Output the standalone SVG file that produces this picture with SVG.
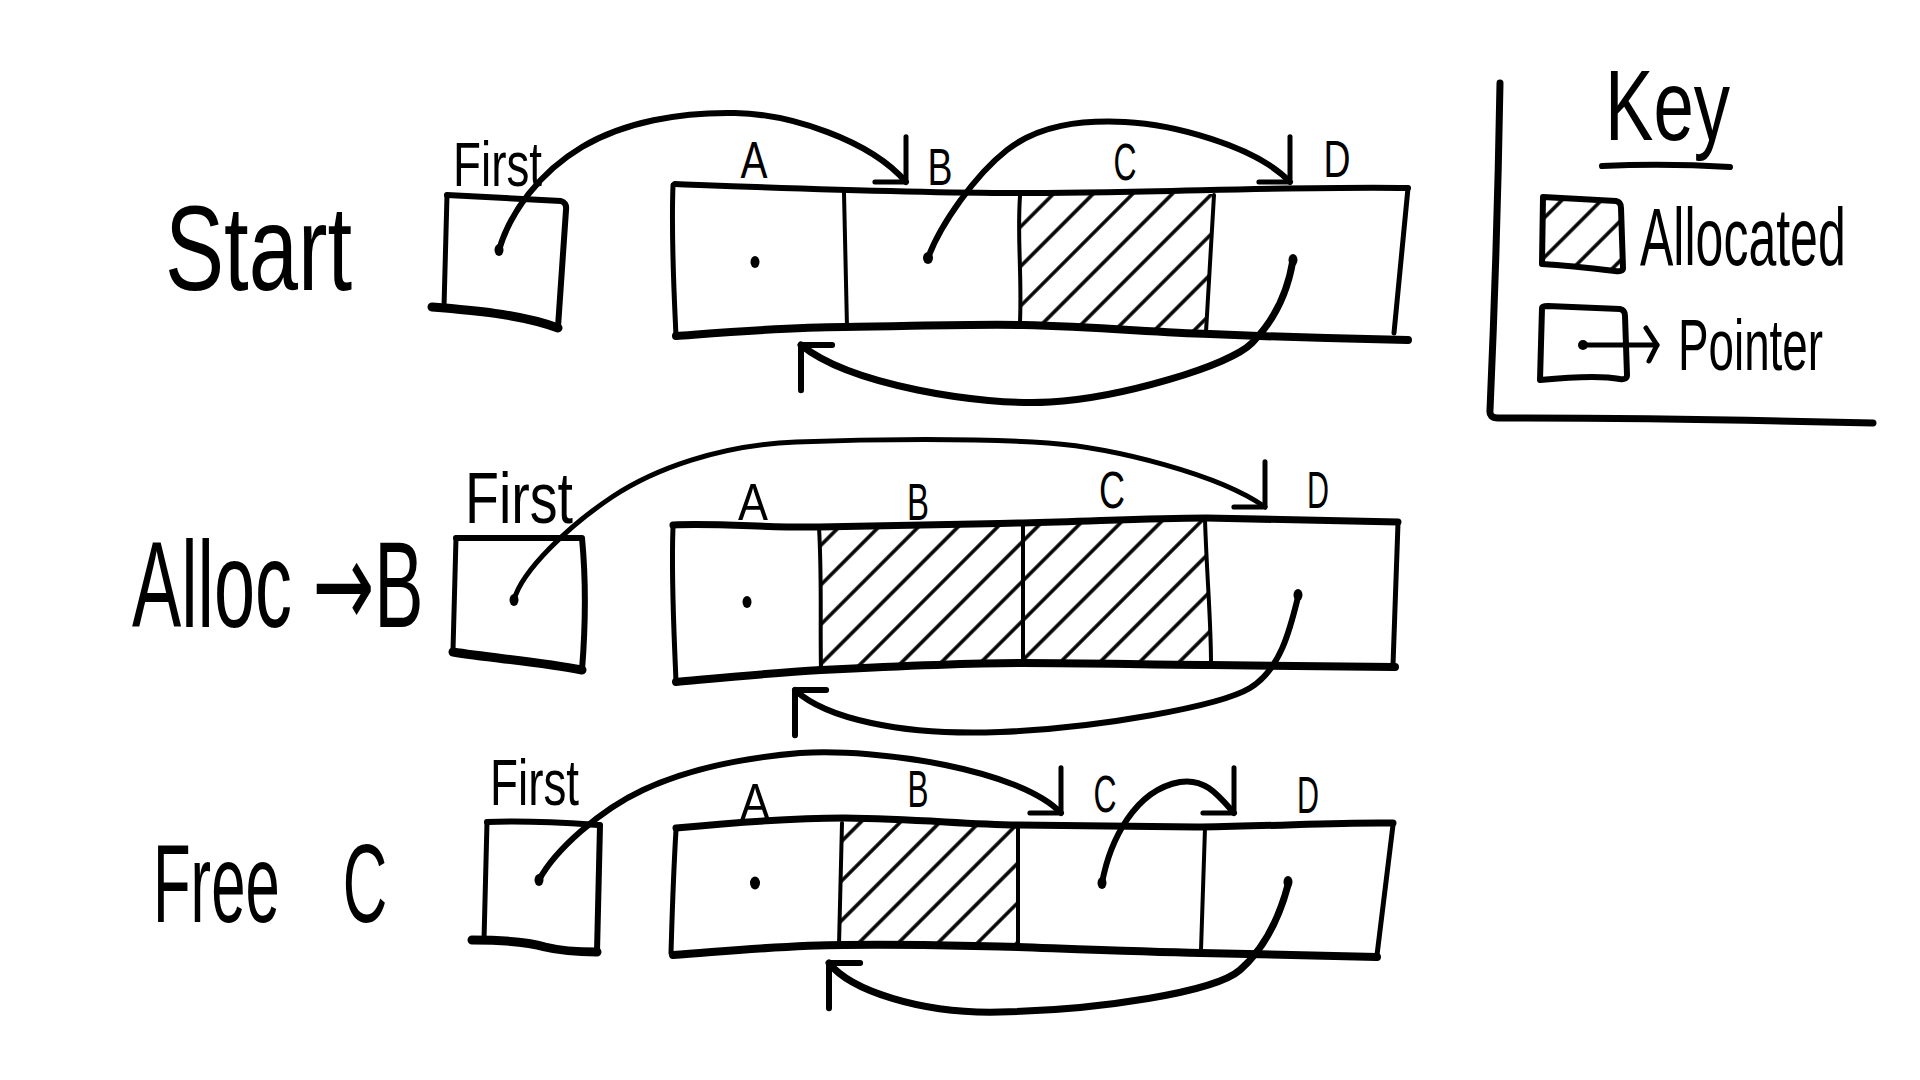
<svg xmlns="http://www.w3.org/2000/svg" width="1920" height="1080" viewBox="0 0 1920 1080">
<style>
.ln{fill:none;stroke:#000;stroke-linecap:round;stroke-linejoin:round}
.w4{stroke-width:4}.w5{stroke-width:5}.w6{stroke-width:6}.w7{stroke-width:7}.w8{stroke-width:8}
.txt{font-family:"Liberation Sans","DejaVu Sans",sans-serif;fill:#000}
.lbl{font-size:52px;text-anchor:middle}
.dot{fill:#000}
.hatch{fill:url(#hatch);stroke:none}
</style>
<defs>
<pattern id="hatch" patternUnits="userSpaceOnUse" width="28" height="28" patternTransform="rotate(45)">
<line x1="14" y1="-2" x2="14" y2="30" stroke="#000" stroke-width="3.5"/>
</pattern>
<marker id="headDown" markerUnits="userSpaceOnUse" markerWidth="80" markerHeight="80" viewBox="-40 -40 80 80" refX="0" refY="0" orient="45" overflow="visible">
<path d="M-32,-32 L0,0 L-22,22" fill="none" stroke="#000" stroke-width="5" stroke-linecap="round" stroke-linejoin="round"/>
</marker>
<marker id="headUp" markerUnits="userSpaceOnUse" markerWidth="80" markerHeight="80" viewBox="-40 -40 80 80" refX="0" refY="0" orient="225" overflow="visible">
<path d="M-32,-32 L0,0 L-22,22" fill="none" stroke="#000" stroke-width="6" stroke-linecap="round" stroke-linejoin="round"/>
</marker>
<marker id="headSmall" markerUnits="userSpaceOnUse" markerWidth="40" markerHeight="40" viewBox="-20 -20 40 40" refX="0" refY="0" orient="auto" overflow="visible">
<path d="M-11,-17 L0,0 L-8,16" fill="none" stroke="#000" stroke-width="5" stroke-linecap="round" stroke-linejoin="round"/>
</marker>
</defs>
<rect width="1920" height="1080" fill="#fff"/>

<!-- Row labels -->
<g id="label-start"><text class="txt" x="165" y="290" font-size="120" textLength="187" lengthAdjust="spacingAndGlyphs">Start</text></g>
<g id="label-alloc"><text class="txt" transform="translate(132,627) scale(0.605,1)" x="0" y="0" font-size="122">Alloc <tspan font-family="DejaVu Sans, sans-serif">→</tspan>B</text></g>
<g id="label-free"><text class="txt" transform="translate(153,922) scale(0.55,1)" x="0" y="0" font-size="112">Free <tspan x="345">C</tspan></text></g>

<!-- First pointer boxes -->
<g id="first-1">
<text class="txt" x="453" y="186" font-size="63" textLength="89" lengthAdjust="spacingAndGlyphs">First</text>
<path class="ln w6" d="M447,195 L561,201 Q567,203 566,210 L558,327"/>
<path class="ln w5" d="M447,195 L444,307"/>
<path class="ln" stroke-width="9" d="M432,307 C470,310 520,314 558,328"/>
<ellipse class="dot" cx="499" cy="250" rx="4.5" ry="6"/>
</g>
<g id="first-2">
<text class="txt" x="465" y="523" font-size="72" textLength="108" lengthAdjust="spacingAndGlyphs">First</text>
<path class="ln w6" d="M456,538 L582,538 C586,580 586,620 582,670"/>
<path class="ln w5" d="M456,538 L453,650"/>
<path class="ln" stroke-width="9" d="M453,652 C490,658 540,662 582,670"/>
<ellipse class="dot" cx="514" cy="600" rx="4.5" ry="6"/>
</g>
<g id="first-3">
<text class="txt" x="490" y="805" font-size="65" textLength="89" lengthAdjust="spacingAndGlyphs">First</text>
<path class="ln w6" d="M487,822 C530,820 570,823 600,825 L597,952"/>
<path class="ln w5" d="M487,822 L484,940"/>
<path class="ln" stroke-width="9" d="M472,940 C500,940 525,941 545,947 C565,952 585,952 597,952"/>
<ellipse class="dot" cx="539" cy="880" rx="4.5" ry="6"/>
</g>

<!-- Memory row 1 -->
<g id="memory-1">
<path class="hatch" d="M1020,194 L1214,194 L1206,333 L1020,325 Z"/>
<path class="ln w6" d="M675,184 C780,188 900,193 1023,193 C1150,193 1300,186 1408,188"/>
<path class="ln w5" d="M1408,188 L1394,333"/>
<path class="ln w8" d="M676,336 C730,332 790,327 844,327 C920,326 970,324 1023,325 C1100,327 1150,332 1210,334 C1280,337 1350,339 1408,340"/>
<path class="ln w5" d="M673,185 C671,240 674,290 676,336"/>
<path class="ln w4" d="M844,193 L847,327"/>
<path class="ln w4" d="M1020,196 C1017,240 1022,270 1020,323"/>
<path class="ln w4" d="M1214,195 L1206,332"/>
<text class="txt lbl" x="754" y="178" font-size="44" textLength="27" lengthAdjust="spacingAndGlyphs">A</text>
<text class="txt lbl" x="940" y="185" textLength="25" lengthAdjust="spacingAndGlyphs">B</text>
<text class="txt lbl" x="1125" y="180" font-size="44" textLength="23" lengthAdjust="spacingAndGlyphs">C</text>
<text class="txt lbl" x="1337" y="177" textLength="27" lengthAdjust="spacingAndGlyphs">D</text>
<ellipse class="dot" cx="755" cy="262" rx="4.5" ry="6"/>
<ellipse class="dot" cx="928" cy="258" rx="5" ry="6"/>
<ellipse class="dot" cx="1293" cy="260" rx="4.5" ry="6"/>
</g>

<!-- Memory row 2 -->
<g id="memory-2">
<path class="hatch" d="M819,527 L1023,524 L1023,664 L821,670 Z"/>
<path class="hatch" d="M1023,524 L1205,519 L1211,665 L1023,664 Z"/>
<path class="ln w7" d="M673,525 C720,523 770,528 819,527 C900,526 960,524 1023,523 C1100,521 1150,518 1206,518 C1300,520 1350,521 1398,522"/>
<path class="ln w5" d="M1398,523 L1393,665"/>
<path class="ln w8" d="M676,682 C720,678 770,673 821,670 C900,666 960,663 1023,663 C1100,663 1150,665 1211,665 C1300,666 1350,667 1395,667"/>
<path class="ln w5" d="M673,527 C671,580 674,630 676,682"/>
<path class="ln w4" d="M819,527 C822,580 820,620 821,670"/>
<path class="ln w4" d="M1023,525 L1023,663"/>
<path class="ln w4" d="M1205,520 C1207,580 1211,620 1211,663"/>
<text class="txt lbl" x="753" y="520" textLength="30" lengthAdjust="spacingAndGlyphs">A</text>
<text class="txt lbl" x="918" y="520" textLength="22" lengthAdjust="spacingAndGlyphs">B</text>
<text class="txt lbl" x="1112" y="508" textLength="26" lengthAdjust="spacingAndGlyphs">C</text>
<text class="txt lbl" x="1318" y="508" textLength="22" lengthAdjust="spacingAndGlyphs">D</text>
<ellipse class="dot" cx="747" cy="602" rx="4.5" ry="6"/>
<ellipse class="dot" cx="1298" cy="595" rx="4.5" ry="6"/>
</g>

<!-- Memory row 3 -->
<g id="memory-3">
<path class="hatch" d="M842,820 L1018,825 L1018,946 L839,945 Z"/>
<path class="ln w7" d="M676,828 C740,822 790,818 844,818 C920,819 960,824 1018,825 C1100,826 1150,827 1201,827 C1280,826 1340,822 1393,823"/>
<path class="ln w5" d="M1393,825 L1377,955"/>
<path class="ln w8" d="M673,955 C740,950 790,945 844,945 C920,944 960,946 1018,947 C1100,950 1150,952 1201,953 C1280,955 1340,956 1377,957"/>
<path class="ln w5" d="M676,830 C673,880 672,920 671,953"/>
<path class="ln w4" d="M842,823 L839,945"/>
<path class="ln w4" d="M1018,827 L1018,945"/>
<path class="ln w4" d="M1205,828 L1201,950"/>
<text class="txt lbl" x="755" y="820" textLength="30" lengthAdjust="spacingAndGlyphs">A</text>
<text class="txt lbl" x="918" y="807" font-size="44" textLength="21" lengthAdjust="spacingAndGlyphs">B</text>
<text class="txt lbl" x="1105" y="812" textLength="23" lengthAdjust="spacingAndGlyphs">C</text>
<text class="txt lbl" x="1308" y="813" textLength="22" lengthAdjust="spacingAndGlyphs">D</text>
<ellipse class="dot" cx="755" cy="883" rx="5" ry="6.5"/>
<ellipse class="dot" cx="1102" cy="883" rx="4.5" ry="6"/>
<ellipse class="dot" cx="1288" cy="882" rx="4.5" ry="6"/>
</g>

<!-- Key -->
<g id="key">
<path class="ln w7" d="M1500,83 C1498,200 1494,320 1490,410 Q1489,418 1498,418 C1600,418 1750,420 1873,423"/>
<text class="txt" x="1605" y="140" font-size="100" textLength="125" lengthAdjust="spacingAndGlyphs">Key</text>
<path class="ln w6" d="M1602,166 Q1665,163 1730,167"/>
<g id="key-allocated">
<path class="hatch" d="M1543,197 L1620,202 L1623,270 L1542,264 Z"/>
<path class="ln w6" d="M1543,197 L1616,201 Q1621,202 1621,208 L1623,268 Q1623,272 1615,271 C1590,268 1560,265 1542,264 Z"/>
<text class="txt" transform="translate(1640,265) scale(0.61,1)" x="0" y="0" font-size="82">Allocated</text>
</g>
<g id="key-pointer">
<path class="ln w6" d="M1542,308 Q1542,306 1548,306 L1620,309 Q1625,310 1625,316 L1627,375 Q1627,380 1620,379 C1600,375 1570,377 1540,380 Z"/>
<ellipse class="dot" cx="1583" cy="345" rx="5" ry="5"/>
<path class="ln w5" d="M1583,345 L1657,345" marker-end="url(#headSmall)"/>
<text class="txt" x="1678" y="370" font-size="72" textLength="145" lengthAdjust="spacingAndGlyphs">Pointer</text>
</g>
</g>

<!-- Connectors -->
<g id="connectors">
<path class="ln w6" d="M499,250 C510,212 540,172 582,147 C624,122 680,112 735,113 C790,114 870,140 906,182" marker-end="url(#headDown)"/>
<path class="ln w6" d="M928,258 C940,225 975,175 1007,150 C1039,125 1080,120 1125,122 C1170,124 1255,145 1290,182" marker-end="url(#headDown)"/>
<path class="ln w7" d="M1293,260 C1288,290 1275,320 1252,343 C1229,366 1120,398 1050,402 C980,406 850,385 801,345" marker-end="url(#headUp)"/>

<path class="ln w5" d="M514,600 C522,570 570,525 612,497 C654,469 720,445 796,442 C872,439 980,438 1048,443 C1116,448 1220,475 1265,507" marker-end="url(#headDown)"/>
<path class="ln w6" d="M1298,597 C1290,630 1280,670 1250,688 C1220,706 1100,728 1000,732 C900,736 825,718 795,690" marker-end="url(#headUp)"/>

<path class="ln w6" d="M539,880 C555,850 600,810 643,790 C686,770 740,758 800,753 C880,748 1020,770 1061,813" marker-end="url(#headDown)"/>
<path class="ln w6" d="M1102,883 C1110,840 1135,790 1180,782 C1205,778 1218,795 1234,813" marker-end="url(#headDown)"/>
<path class="ln w7" d="M1288,885 C1280,915 1265,948 1240,970 C1215,992 1100,1010 1000,1012 C920,1014 850,990 829,963" marker-end="url(#headUp)"/>
</g>
</svg>
